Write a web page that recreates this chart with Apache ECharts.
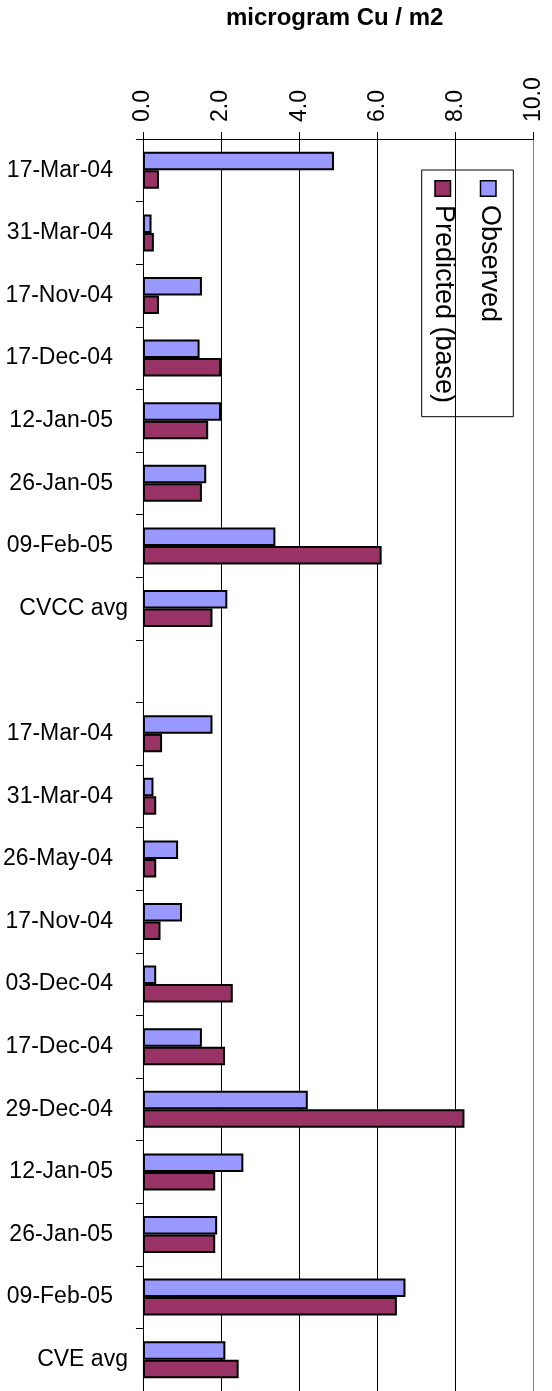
<!DOCTYPE html>
<html>
<head>
<meta charset="utf-8">
<script src="https://cdn.jsdelivr.net/npm/echarts@6/dist/echarts.min.js"></script>
<style>
html,body{margin:0;padding:0;background:#fff;}
#chart{width:552px;height:1391px;}
</style>
</head>
<body>
<div id="chart"></div>
<script>
var categories = ['17-Mar-04','31-Mar-04','17-Nov-04','17-Dec-04','12-Jan-05','26-Jan-05','09-Feb-05','CVCC avg','',
  '17-Mar-04','31-Mar-04','26-May-04','17-Nov-04','03-Dec-04','17-Dec-04','29-Dec-04','12-Jan-05','26-Jan-05','09-Feb-05','CVE avg'];
var observed = [4.89,0.22,1.51,1.45,2.00,1.62,3.39,2.16,null,
  1.78,0.27,0.90,1.00,0.34,1.51,4.22,2.57,1.90,6.72,2.11];
var predicted = [0.41,0.28,0.41,2.00,1.67,1.51,6.11,1.78,null,
  0.49,0.34,0.34,0.45,2.30,2.10,8.23,1.85,1.85,6.50,2.45];
var seriesNames = ['Observed','Predicted (base)'];
var xTicks = {min:0, max:10, interval:2};
var titleText = 'microgram Cu / m2';

var FONT = '"Liberation Sans", Arial, sans-serif';
var colors = ['#9999FF','#993366'];

var chart = echarts.init(document.getElementById('chart'));

var legendChildren = [
  {type:'rect', shape:{x:0,y:0,width:246.7,height:91.6}, style:{fill:'#fff',stroke:'#000',lineWidth:1}}
];
var rowY = [25.3, 70.8];
seriesNames.forEach(function(n,i){
  legendChildren.push({type:'rect', shape:{x:10.7,y:rowY[i]-8,width:15.5,height:15.5},
    style:{fill:colors[i],stroke:'#000',lineWidth:1.5}});
  legendChildren.push({type:'text', x:35, y:rowY[i]-1,
    style:{text:n,font:'27px '+FONT,fill:'#000',textAlign:'left',textVerticalAlign:'middle'}});
});

chart.setOption({
  animation:false,
  backgroundColor:'#fff',
  title:{text:titleText,left:226,top:6,padding:0,
    textStyle:{fontFamily:FONT,fontSize:24,fontWeight:'bold',color:'#000'}},
  grid:{left:142,top:139,width:391.6,height:1252.8,containLabel:false},
  xAxis:{type:'value',position:'top',min:xTicks.min,max:xTicks.max,interval:xTicks.interval,
    axisLine:{show:true,lineStyle:{color:'#000',width:1}},
    axisTick:{show:true,length:7,lineStyle:{color:'#000'}},
    axisLabel:{rotate:-90,margin:17,fontFamily:FONT,fontSize:23,color:'#000',
      formatter:function(v){return v.toFixed(1);}},
    splitLine:{show:true,lineStyle:{color:['#000','#000','#000','#000','#000','#888'],width:1}}
  },
  yAxis:{type:'category',inverse:true,data:categories,
    axisLine:{show:true,lineStyle:{color:'#000',width:1}},
    axisTick:{show:true,length:7,alignWithLabel:false,lineStyle:{color:'#000'}},
    axisLabel:{margin:15,fontFamily:FONT,fontSize:23,color:'#000',
      formatter:function(v){ return /avg/.test(v) ? v : '{d|'+v+'}'; },
      rich:{d:{fontFamily:FONT,fontSize:23,color:'#000',padding:[0,15,0,0]}}},
    splitLine:{show:false}
  },
  series:[
    {name:seriesNames[0],type:'bar',data:observed,barWidth:18.5,barGap:'0%',
      itemStyle:{color:colors[0],borderColor:'#000',borderWidth:2}},
    {name:seriesNames[1],type:'bar',data:predicted,barWidth:18.5,barGap:'0%',
      itemStyle:{color:colors[1],borderColor:'#000',borderWidth:2}}
  ],
  graphic:[{type:'group',x:513.3,y:170,rotation:-Math.PI/2,children:legendChildren}]
});
</script>
</body>
</html>
